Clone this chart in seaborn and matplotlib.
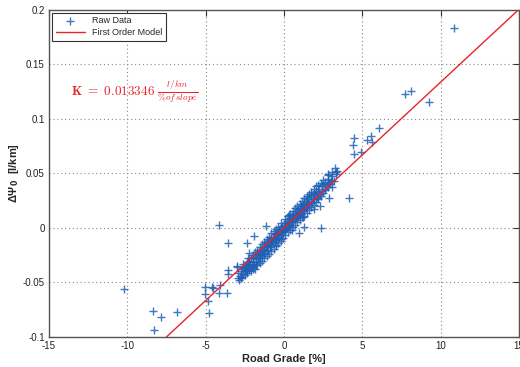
import numpy as np
import pandas as pd
import matplotlib
matplotlib.use("Agg")
import matplotlib.pyplot as plt
import seaborn as sns

# ---- data -------------------------------------------------------------
outlier_x = [10.86, 7.70, 8.08, 9.28, 6.06, 4.47, 4.39, 4.50, 5.55, 5.30, 5.64, 4.92,
             4.14, 2.36, 3.27, 3.35, 2.84, 2.86, 2.29, 0.96, 3.07, 1.27,
             -4.13, -3.58, -2.33, -1.90, -1.12,
             -10.23, -8.34, -7.82, -8.32, -6.82, -4.79, -5.06, -5.02, -4.85, -4.60,
             -4.13, -3.64, -4.07, -3.60, -3.54, -3.00, -2.86, -2.75, -2.33, -2.00,
             -4.55, -2.97, -2.22]
outlier_y = [0.183, 0.1224, 0.125, 0.115, 0.0915, 0.082, 0.076, 0.068, 0.084, 0.080, 0.0787, 0.0698,
             0.0277, -0.0004, 0.0546, 0.051, 0.0494, 0.027, 0.0203, -0.005, 0.0377, 0.001,
             0.0026, -0.0141, -0.0141, -0.0072, 0.002,
             -0.0563, -0.0762, -0.0814, -0.0936, -0.0774, -0.0778, -0.0606, -0.054, -0.067, -0.054,
             -0.060, -0.0594, -0.052, -0.042, -0.0386, -0.0347, -0.0478, -0.046, -0.040, -0.034,
             -0.055, -0.036, -0.0233]

cluster_x = [-2.95, -2.80, -2.70, -2.60, -2.55, -2.50, -2.45, -2.40, -2.35, -2.30, -2.25, -2.20,
             -2.15, -2.10, -2.05, -2.00, -2.40, -2.20, -2.00, -1.80,
             -1.95, -1.90, -1.85, -1.80, -1.75, -1.70, -1.65, -1.60, -1.60, -1.55, -1.50, -1.50,
             -1.45, -1.40, -1.40, -1.35, -1.30, -1.30, -1.25, -1.20, -1.20, -1.15, -1.10, -1.10,
             -1.05, -1.00, -1.00,
             -0.95, -0.90, -0.90, -0.85, -0.80, -0.80, -0.75, -0.70, -0.70, -0.65, -0.60, -0.60,
             -0.55, -0.50, -0.50, -0.45, -0.40, -0.40, -0.35, -0.30, -0.30, -0.25, -0.20, -0.20,
             -0.15, -0.10, -0.10, -0.05,
             0.00, 0.00, 0.05, 0.10, 0.10, 0.15, 0.20, 0.20, 0.25, 0.30, 0.30, 0.35, 0.40, 0.40,
             0.45, 0.50, 0.50, 0.55, 0.60, 0.60, 0.65, 0.70, 0.70, 0.75, 0.80, 0.80, 0.85, 0.90,
             0.90, 0.95,
             1.00, 1.00, 1.05, 1.10, 1.10, 1.15, 1.20, 1.20, 1.25, 1.30, 1.30, 1.35, 1.40, 1.40,
             1.45, 1.50, 1.50, 1.55, 1.60, 1.60, 1.70, 1.75, 1.80, 1.85, 1.90, 1.95,
             2.00, 2.05, 2.10, 2.20, 2.25, 2.30, 2.40, 2.45, 2.50, 2.60, 2.65, 2.75, 2.80, 2.90,
             3.00, 3.10, 3.20, 0.50, -0.50, 1.90, 2.20, -0.20, 0.30, 1.20]
cluster_y = [-0.041, -0.044, -0.038, -0.042, -0.036, -0.039, -0.034, -0.037, -0.031, -0.035, -0.038, -0.030,
             -0.033, -0.028, -0.036, -0.031, -0.040, -0.039, -0.038, -0.034,
             -0.027, -0.033, -0.025, -0.029, -0.031, -0.024, -0.027, -0.022, -0.030, -0.025, -0.020, -0.028,
             -0.023, -0.019, -0.026, -0.021, -0.024, -0.017, -0.020, -0.015, -0.023, -0.018, -0.021, -0.014,
             -0.017, -0.012, -0.020,
             -0.015, -0.011, -0.018, -0.013, -0.009, -0.016, -0.012, -0.008, -0.014, -0.010, -0.006, -0.013,
             -0.009, -0.005, -0.011, -0.007, -0.003, -0.010, -0.006, -0.002, -0.008, -0.004, 0.000, -0.007,
             -0.003, 0.002, -0.005, -0.001,
             0.003, -0.003, 0.001, 0.004, -0.002, 0.002, 0.006, 0.000, 0.003, 0.008, 0.002, 0.005, 0.009, 0.003,
             0.006, 0.011, 0.005, 0.008, 0.012, 0.006, 0.009, 0.014, 0.008, 0.011, 0.015, 0.009, 0.012, 0.017,
             0.010, 0.014,
             0.018, 0.012, 0.015, 0.020, 0.013, 0.017, 0.021, 0.015, 0.018, 0.023, 0.016, 0.020, 0.025, 0.018,
             0.022, 0.026, 0.019, 0.023, 0.028, 0.021, 0.025, 0.030, 0.023, 0.028, 0.032, 0.026,
             0.030, 0.034, 0.028, 0.033, 0.036, 0.031, 0.038, 0.034, 0.040, 0.036, 0.042, 0.039, 0.045, 0.041,
             0.044, 0.047, 0.043, -0.002, -0.016, 0.017, 0.026, -0.010, 0.012, 0.010]

band_lower_x = [-2.90, -2.75, -2.65, -2.50, -2.35, -2.25, -2.10, -1.95, -1.85, -1.70, -1.55, -1.40,
                -1.25, -1.10, -0.95, -0.80, -0.65, -0.50, -0.35, -0.20, -0.05, 0.10, 0.25, 0.40,
                0.55, 0.70, 0.85, 1.00, 1.15, 1.30, 1.45, 1.60, 1.75, 1.90, 2.05, 2.20, 2.35,
                2.50, 2.65, 2.80, 2.95, 3.10, 3.30]
band_lower_y = [-0.046, -0.040, -0.045, -0.043, -0.041, -0.033, -0.040, -0.036, -0.038, -0.034, -0.032, -0.030,
                -0.028, -0.026, -0.024, -0.021, -0.019, -0.017, -0.014, -0.012, -0.009, -0.007, -0.004, -0.002,
                0.001, 0.003, 0.005, 0.007, 0.010, 0.011, 0.014, 0.016, 0.019, 0.021, 0.024, 0.027, 0.029,
                0.032, 0.035, 0.037, 0.040, 0.043, 0.049]

band_upper_x = [-2.60, -2.30, -2.00, -1.70, -1.40, -1.10, -0.80, -0.50, -0.20, 0.10, 0.40, 0.70,
                1.00, 1.30, 1.60, 1.90, 2.20, 2.50, 2.80, 3.10, 3.40, 0.25, 0.55, 0.85, 1.15,
                1.45, 1.75, 2.05, 2.35, -0.35, -0.65, -0.95, -1.25, -1.55, -1.85]
band_upper_y = [-0.033, -0.028, -0.025, -0.020, -0.015, -0.010, -0.005, -0.001, 0.004, 0.008, 0.013, 0.018,
                0.022, 0.027, 0.031, 0.036, 0.039, 0.044, 0.048, 0.051, 0.052, 0.011, 0.015, 0.020, 0.025,
                0.029, 0.033, 0.038, 0.041, 0.001, -0.003, -0.008, -0.013, -0.018, -0.022]

K = 0.013346
model_x = [-15, 15]

x_ticks = [-15, -10, -5, 0, 5, 10, 15]
y_ticks = [-0.1, -0.05, 0, 0.05, 0.1, 0.15, 0.2]
y_tick_labels = ["-0.1", "-0.05", "0", "0.05", "0.1", "0.15", "0.2"]

# ---- frames -----------------------------------------------------------
raw = pd.DataFrame({
    "grade": outlier_x + cluster_x + band_lower_x + band_upper_x,
    "dpsi": outlier_y + cluster_y + band_lower_y + band_upper_y,
})
model = pd.DataFrame({"grade": model_x, "dpsi": [K * v for v in model_x]})

sns.set_style("white")
plt.rcParams["font.family"] = ["Liberation Sans", "DejaVu Sans"]

fig = plt.figure(figsize=(5.2, 3.67), dpi=100)
ax = fig.add_axes([0.094, 0.082, 0.904, 0.892])

blue = "#1f5fb4"
red = "#e8232a"

sns.scatterplot(data=raw, x="grade", y="dpsi", marker="+", color=blue, s=36,
                linewidth=1.0, alpha=0.85, ax=ax, label="Raw Data", zorder=3)
sns.lineplot(data=model, x="grade", y="dpsi", color=red, linewidth=1.0, ax=ax,
             label="First Order Model", zorder=4)

ax.set_xlim(-15, 15)
ax.set_ylim(-0.1, 0.2)
ax.set_xticks(x_ticks)
ax.set_xticklabels([str(t) for t in x_ticks])
ax.set_yticks(y_ticks)
ax.set_yticklabels(y_tick_labels)
ax.tick_params(direction="in", top=True, right=True, length=4, width=0.8,
               labelsize=7, colors="#333333", labelcolor="#222222", pad=3)
ax.grid(True, linestyle=(0, (1, 2.5)), color="#888888", linewidth=0.8)
for s in ax.spines.values():
    s.set_color("#555555")
    s.set_linewidth(1.0)

ax.set_xlabel("Road Grade [%]", fontsize=8, fontweight="bold", labelpad=2)
ax.set_ylabel(r"ΔΨ$_{\mathbf{0}}$  [l/km]", fontsize=8, fontweight="bold", labelpad=1,
              math_fontfamily="dejavusans")

ax.text(-13.6, 0.1245, r"$\mathbf{K\ =\ 0.013346}\ \frac{l/km}{\%of\,slope}$",
        color=red, fontsize=9.5, va="center", ha="left", math_fontfamily="cm")

leg = ax.legend(loc="upper left", fontsize=6.5, frameon=True, fancybox=False,
                edgecolor="#333333", framealpha=1, borderaxespad=0.35,
                handlelength=3.2, borderpad=0.4, labelspacing=0.3)
leg.get_frame().set_linewidth(0.8)

fig.savefig("out.png", dpi=100)
